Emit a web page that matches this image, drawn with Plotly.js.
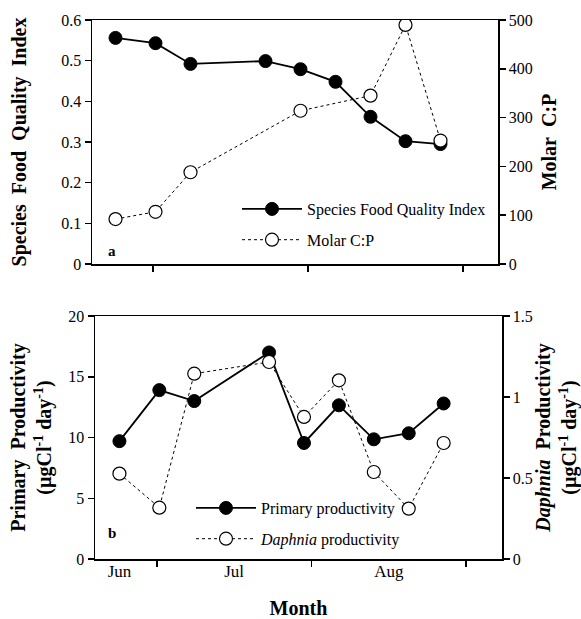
<!DOCTYPE html>
<html>
<head>
<meta charset="utf-8">
<script src="https://cdn.plot.ly/plotly-3.0.1.min.js"></script>
<style>html,body{margin:0;padding:0;background:#fff;}#chart{width:581px;height:619px;}</style>
</head>
<body>
<div id="chart"></div>
<script>
// Sampling days (days counted from 1 June)
const sampleDays = [23, 31, 38, 53, 60, 67, 74, 81, 88];
const cpDays = [23, 31, 38, 60, 74, 81, 88];

// Panel a
const foodQualityIndex = [0.556, 0.543, 0.492, 0.499, 0.479, 0.448, 0.362, 0.302, 0.295];
const molarCP = [92, 107, 188, 314, 345, 490, 253];

// Panel b
const primaryProductivity = [9.7, 13.9, 13.0, 17.0, 9.55, 12.65, 9.85, 10.35, 12.8];
const daphniaProductivity = [0.527, 0.317, 1.144, 1.216, 0.877, 1.103, 0.537, 0.311, 0.716];

// Month boundaries and labels
const monthBoundaries = [30.5, 61.5, 92.5];
const monthLabelPos = [23, 46, 77];
const monthLabels = ['Jun', 'Jul', 'Aug'];

const FONT = 'Liberation Serif';
const SP = '\u00a0\u00a0';
const filledMarker = {symbol: 'circle', size: 13, color: '#000', line: {color: '#000', width: 1}};
const openMarker = {symbol: 'circle', size: 13, color: '#fff', line: {color: '#000', width: 1.2}};

const traces = [
  {x: sampleDays, y: foodQualityIndex, xaxis: 'x', yaxis: 'y', mode: 'lines+markers',
   name: 'Species Food Quality Index', line: {color: '#000', width: 1.8}, marker: filledMarker,
   legend: 'legend', legendgroup: 'a1'},
  {x: cpDays, y: molarCP, xaxis: 'x', yaxis: 'y2', mode: 'lines+markers',
   name: 'Molar C:P', line: {color: '#000', width: 1, dash: 'dot'}, marker: openMarker,
   legend: 'legend', legendgroup: 'a2'},
  {x: sampleDays, y: primaryProductivity, xaxis: 'x2', yaxis: 'y3', mode: 'lines+markers',
   name: 'Primary productivity', line: {color: '#000', width: 1.8}, marker: filledMarker,
   legend: 'legend2', legendgroup: 'b1'},
  {x: sampleDays, y: daphniaProductivity, xaxis: 'x2', yaxis: 'y4', mode: 'lines+markers',
   name: '<i>Daphnia</i> productivity', line: {color: '#000', width: 1, dash: 'dot'}, marker: openMarker,
   legend: 'legend2', legendgroup: 'b2'}
];

const L = 60, R = 60, T = 10, B = 40, W = 581, H = 619;
const pw = W - L - R, ph = H - T - B;
const dx = (a, b) => [(a - L) / pw, (b - L) / pw];
const dy = (top, bot) => [(H - B - bot) / ph, (H - B - top) / ph];

const axisBase = {
  showgrid: false, zeroline: false, showline: true, linecolor: '#000', linewidth: 1.5,
  ticks: 'outside', ticklen: 6, tickwidth: 1.5, tickcolor: '#000',
  tickfont: {family: FONT, size: 16, color: '#000'}, automargin: false
};
const titleFont = {family: FONT, size: 20, color: '#000', weight: 'bold'};
const unitLine = '(µgCl<sup>-1</sup> day<sup>-1</sup>)';

const layout = {
  width: W, height: H,
  margin: {l: L, r: R, t: T, b: B},
  paper_bgcolor: '#fff', plot_bgcolor: '#fff',
  font: {family: FONT, color: '#000'},
  showlegend: true,
  xaxis: Object.assign({}, axisBase, {domain: dx(92, 498), anchor: 'y', range: [18.3, 99.5],
    tickvals: monthBoundaries, showticklabels: false, mirror: true}),
  yaxis: Object.assign({}, axisBase, {domain: dy(20, 264), anchor: 'x', range: [0, 0.6], dtick: 0.1,
    title: {text: ['Species', 'Food', 'Quality', 'Index'].join(SP), font: titleFont, standoff: 29}}),
  yaxis2: Object.assign({}, axisBase, {overlaying: 'y', side: 'right', anchor: 'x', range: [0, 500], dtick: 100,
    title: {text: 'Molar' + SP + 'C:P', font: titleFont, standoff: 10}}),
  xaxis2: Object.assign({}, axisBase, {domain: dx(95, 502), anchor: 'y3', range: [18.1, 99.7],
    tickmode: 'array', tickvals: monthLabelPos, ticktext: monthLabels, tickcolor: 'rgba(0,0,0,0)', ticklen: 1,
    ticklabelstandoff: -5,
    tickfont: {family: FONT, size: 17, color: '#000'},
    minor: {tickmode: 'array', tickvals: monthBoundaries, ticks: 'outside', ticklen: 6, tickwidth: 1.5, tickcolor: '#000', showgrid: false},
    mirror: true,
    title: {text: 'Month', font: titleFont, standoff: 45}}),
  yaxis3: Object.assign({}, axisBase, {domain: dy(316, 559), anchor: 'x2', range: [0, 20], dtick: 5,
    title: {text: 'Primary' + SP + 'Productivity<br>' + unitLine, font: titleFont, standoff: 11}}),
  yaxis4: Object.assign({}, axisBase, {overlaying: 'y3', side: 'right', anchor: 'x2', range: [0, 1.5], dtick: 0.5,
    title: {text: '<i>Daphnia</i>' + SP + 'Productivity<br>' + unitLine, font: titleFont, standoff: 12}}),
  legend: {x: (237 - L) / pw, y: (H - B - 192) / ph, xanchor: 'left', yanchor: 'top',
    bgcolor: 'rgba(0,0,0,0)', font: {family: FONT, size: 16, color: '#000'},
    traceorder: 'grouped', tracegroupgap: 7, itemwidth: 60},
  legend2: {x: (191 - L) / pw, y: (H - B - 491) / ph, xanchor: 'left', yanchor: 'top',
    bgcolor: 'rgba(0,0,0,0)', font: {family: FONT, size: 16, color: '#000'},
    traceorder: 'grouped', tracegroupgap: 7, itemwidth: 60},
  annotations: [
    {xref: 'paper', yref: 'paper', x: (106 - L) / pw, y: (H - B - 251) / ph, text: '<b>a</b>',
     showarrow: false, font: {family: FONT, size: 15, color: '#000'}},
    {xref: 'paper', yref: 'paper', x: (106 - L) / pw, y: (H - B - 543) / ph, text: '<b>b</b>',
     showarrow: false, font: {family: FONT, size: 15, color: '#000'}}
  ]
};

Plotly.newPlot('chart', traces, layout, {staticPlot: true, displayModeBar: false});
</script>
</body>
</html>
